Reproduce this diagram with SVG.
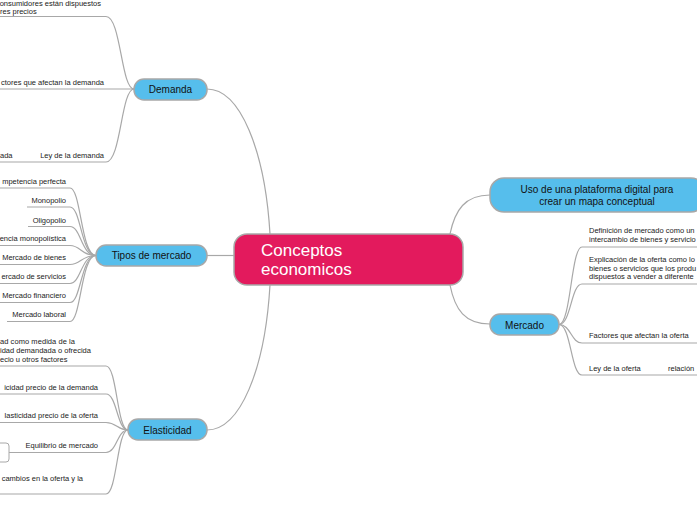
<svg xmlns="http://www.w3.org/2000/svg" width="697" height="520" viewBox="0 0 697 520">
<style>
.c{fill:none;stroke:#a8a8a8;stroke-width:1.2}
.b{fill:#56BEEC;stroke:#a8a8a8;stroke-width:1.5}
.t{font-family:"Liberation Sans",Arial,sans-serif;font-size:10px;fill:#111;text-anchor:middle}
.s{font-family:"Liberation Sans",Arial,sans-serif;font-size:7.5px;fill:#222}
.e{text-anchor:end}
</style>
<rect width="697" height="520" fill="#fff"/>
<g id="connectors">
<path class="c" d="M207,89 C240,89 265,150 270,234"/>
<path class="c" d="M207,255.5 L234,255.5"/>
<path class="c" d="M270,285 C265,370 240,430 207,430"/>
<path class="c" d="M450,234 C455,210 465,195 490,195"/>
<path class="c" d="M450,285 C455,310 465,324 490,324"/>
<path class="c" d="M134,89 C121,89 121,16.5 106,16.5 L0,16.5"/>
<path class="c" d="M134,89 L0,89"/>
<path class="c" d="M134,89 C121,89 121,162 106,162 L0,162"/>
<path class="c" d="M96,255.5 C81,255.5 81,188 70,188 L0,188"/>
<path class="c" d="M96,255.5 C81,255.5 81,207 70,207 L27,207"/>
<path class="c" d="M96,255.5 C81,255.5 81,226.5 70,226.5 L28,226.5"/>
<path class="c" d="M96,255.5 C81,255.5 81,245.5 70,245.5 L0,245.5"/>
<path class="c" d="M96,255.5 C81,255.5 81,264.5 70,264.5 L0,264.5"/>
<path class="c" d="M96,255.5 C81,255.5 81,283.5 70,283.5 L0,283.5"/>
<path class="c" d="M96,255.5 C81,255.5 81,302.5 70,302.5 L0,302.5"/>
<path class="c" d="M96,255.5 C81,255.5 81,321.5 70,321.5 L7,321.5"/>
<path class="c" d="M128,430 C117,430 117,366 106,366 L0,366"/>
<path class="c" d="M128,430 C117,430 117,394 106,394 L0,394"/>
<path class="c" d="M128,430 C117,430 117,422.5 106,422.5 L0,422.5"/>
<path class="c" d="M128,430 C117,430 117,452.5 106,452.5 L19,452.5 L9,452.5"/>
<path class="c" d="M128,430 C117,430 117,494 106,494 L0,494"/>
<path class="c" d="M559,324.5 C571,324.5 571,247 582,247 L697,247"/>
<path class="c" d="M559,324.5 C571,324.5 571,284 582,284 L697,284"/>
<path class="c" d="M559,324.5 C571,324.5 571,343 582,343 L697,343"/>
<path class="c" d="M559,324.5 C571,324.5 571,375 582,375 L697,375"/>
</g>
<g id="central">
<rect x="234" y="234" width="229" height="51" rx="13" fill="#E31A5D" stroke="#a8a8a8" stroke-width="1.5"/>
<text x="261" y="256" font-family="Liberation Sans, Arial, sans-serif" font-size="17" fill="#fff">Conceptos</text>
<text x="261" y="275" font-family="Liberation Sans, Arial, sans-serif" font-size="17" fill="#fff">economicos</text>
</g>
<g id="demanda">
<rect class="b" x="134" y="79" width="73" height="21" rx="10"/>
<text class="t" x="170.5" y="93">Demanda</text>
</g>
<g id="tipos">
<rect class="b" x="96" y="245" width="111" height="21" rx="10"/>
<text class="t" x="151.5" y="259">Tipos de mercado</text>
</g>
<g id="elasticidad">
<rect class="b" x="128" y="419" width="79" height="21" rx="10"/>
<text class="t" x="167.5" y="433.5">Elasticidad</text>
</g>
<g id="uso">
<rect class="b" x="490" y="178" width="215" height="34" rx="14"/>
<text class="t" x="597" y="193">Uso de una plataforma digital para</text>
<text class="t" x="597" y="205">crear un mapa conceptual</text>
</g>
<g id="mercado">
<rect class="b" x="490" y="314" width="69" height="21" rx="10"/>
<text class="t" x="524.5" y="328.5">Mercado</text>
</g>
<g id="demanda-children">
<text class="s e" x="101" y="5.5">onsumidores están dispuestos</text>
<text class="s" x="0" y="14">res precios</text>
<text class="s e" x="104" y="85">ctores que afectan la demanda</text>
<text class="s" x="0" y="158">ada</text>
<text class="s e" x="104" y="158">Ley de la demanda</text>
</g>
<g id="tipos-children">
<text class="s e" x="66" y="184">mpetencia perfecta</text>
<text class="s e" x="66" y="203">Monopolio</text>
<text class="s e" x="66" y="222.5">Oligopolio</text>
<text class="s e" x="66" y="241">encia monopolística</text>
<text class="s e" x="66" y="260">Mercado de bienes</text>
<text class="s e" x="66" y="279">ercado de servicios</text>
<text class="s e" x="66" y="298">Mercado financiero</text>
<text class="s e" x="66" y="317">Mercado laboral</text>
</g>
<g id="elasticidad-children">
<text class="s" x="0" y="344" textLength="75">ad como medida de la</text>
<text class="s" x="0" y="353">idad demandada o ofrecida</text>
<text class="s" x="0" y="362">ecio u otros factores</text>
<text class="s e" x="98" y="390">icidad precio de la demanda</text>
<text class="s e" x="98" y="418">lasticidad precio de la oferta</text>
<text class="s e" x="98" y="448">Equilibrio de mercado</text>
<rect x="-20" y="443" width="29" height="19" rx="3" fill="#fff" stroke="#a8a8a8" stroke-width="1"/>
<text class="s e" x="83" y="481">cambios en la oferta y la</text>
</g>
<g id="mercado-children">
<text class="s" x="589" y="233">Definición de mercado como un</text>
<text class="s" x="589" y="242">intercambio de bienes y servicio</text>
<text class="s" x="589" y="261.5">Explicación de la oferta como lo</text>
<text class="s" x="589" y="270.5">bienes o servicios que los produ</text>
<text class="s" x="589" y="279">dispuestos a vender a diferente</text>
<text class="s" x="589" y="338">Factores que afectan la oferta</text>
<text class="s" x="589" y="370.5">Ley de la oferta</text>
<text class="s" x="668" y="370.5">relación</text>
</g>
</svg>
